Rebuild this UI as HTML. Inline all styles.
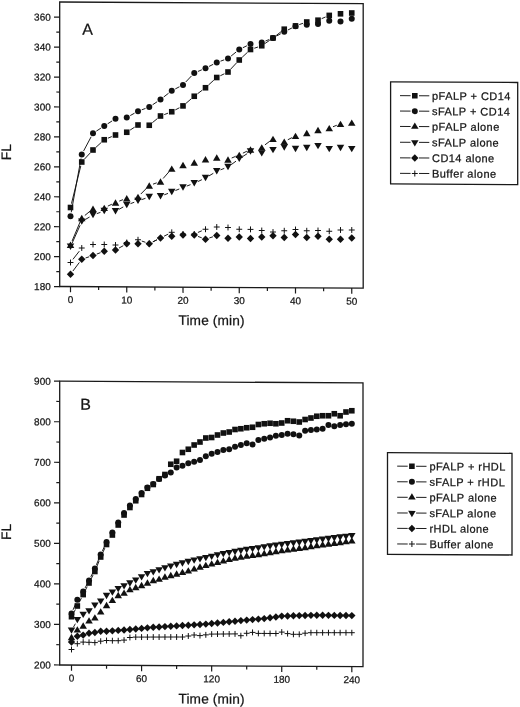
<!DOCTYPE html>
<html><head><meta charset="utf-8"><title>Figure</title>
<style>
html,body{margin:0;padding:0;background:#fff;}
svg{display:block;will-change:transform;filter:blur(0.35px);}
text{font-family:"Liberation Sans",sans-serif;fill:#161616;stroke:#161616;stroke-width:0.25px;}
.tk{font-size:10px;}
.ax{font-size:13.7px;letter-spacing:0.15px;}
.pn{font-size:16px;}
.lg{font-size:11px;letter-spacing:0.45px;}
</style></head><body>
<svg width="520" height="707" viewBox="0 0 520 707" fill="#111">
<rect x="0" y="0" width="520" height="707" fill="#fff"/>
<g transform="matrix(1 0.0055 0 1 0 -0.33)">
<rect x="59.7" y="2" width="303.5" height="284.5" fill="none" stroke="#1a1a1a" stroke-width="1.3"/>
<text x="50.8" y="290.15" text-anchor="end" class="tk">180</text>
<text x="50.8" y="260.22" text-anchor="end" class="tk">200</text>
<text x="50.8" y="230.28" text-anchor="end" class="tk">220</text>
<text x="50.8" y="200.35" text-anchor="end" class="tk">240</text>
<text x="50.8" y="170.41" text-anchor="end" class="tk">260</text>
<text x="50.8" y="140.48" text-anchor="end" class="tk">280</text>
<text x="50.8" y="110.55" text-anchor="end" class="tk">300</text>
<text x="50.8" y="80.61" text-anchor="end" class="tk">320</text>
<text x="50.8" y="50.68" text-anchor="end" class="tk">340</text>
<text x="50.8" y="20.74" text-anchor="end" class="tk">360</text>
<text x="70.5" y="303.05" text-anchor="middle" class="tk">0</text>
<text x="126.75" y="303.05" text-anchor="middle" class="tk">10</text>
<text x="183" y="303.05" text-anchor="middle" class="tk">20</text>
<text x="239.25" y="303.05" text-anchor="middle" class="tk">30</text>
<text x="295.5" y="303.05" text-anchor="middle" class="tk">40</text>
<text x="351.75" y="303.05" text-anchor="middle" class="tk">50</text>
<path d="M59.7 286.6H54M59.7 256.67H54M59.7 226.73H54M59.7 196.8H54M59.7 166.86H54M59.7 136.93H54M59.7 107H54M59.7 77.06H54M59.7 47.13H54M59.7 17.19H54M59.7 271.63H56.3M59.7 241.7H56.3M59.7 211.77H56.3M59.7 181.83H56.3M59.7 151.9H56.3M59.7 121.96H56.3M59.7 92.03H56.3M59.7 62.1H56.3M59.7 32.16H56.3M70.5 286.5V292.2M126.75 286.5V292.2M183 286.5V292.2M239.25 286.5V292.2M295.5 286.5V292.2M351.75 286.5V292.2M98.62 286.5V289.9M154.88 286.5V289.9M211.12 286.5V289.9M267.38 286.5V289.9M323.62 286.5V289.9" stroke="#1a1a1a" stroke-width="1.2" fill="none"/>
<text x="211.6" y="324.2" text-anchor="middle" class="ax">Time (min)</text>
<text transform="translate(10.6 152.4) rotate(-90)" text-anchor="middle" class="ax">FL</text>
<text x="82.3" y="34.6" class="pn">A</text>
</g>
<path d="M72.95 259.34L79.3 251.16M141.78 241.05L145.47 242.3M152.83 241.82L156.92 239.78M164.07 236.19L168.18 234.11M197.93 232.44L201.82 230.81" stroke="#111" stroke-width="0.95" fill="none"/>
<path d="M67.55 262.5H73.45M70.5 259.55V265.45" stroke="#111" stroke-width="1" fill="none"/>
<path d="M78.8 248H84.7M81.75 245.05V250.95" stroke="#111" stroke-width="1" fill="none"/>
<path d="M90.05 244.5H95.95M93 241.55V247.45" stroke="#111" stroke-width="1" fill="none"/>
<path d="M101.3 244.5H107.2M104.25 241.55V247.45" stroke="#111" stroke-width="1" fill="none"/>
<path d="M112.55 245H118.45M115.5 242.05V247.95" stroke="#111" stroke-width="1" fill="none"/>
<path d="M123.8 242.5H129.7M126.75 239.55V245.45" stroke="#111" stroke-width="1" fill="none"/>
<path d="M135.05 239.75H140.95M138 236.8V242.7" stroke="#111" stroke-width="1" fill="none"/>
<path d="M146.3 243.6H152.2M149.25 240.65V246.55" stroke="#111" stroke-width="1" fill="none"/>
<path d="M157.55 238H163.45M160.5 235.05V240.95" stroke="#111" stroke-width="1" fill="none"/>
<path d="M168.8 232.3H174.7M171.75 229.35V235.25" stroke="#111" stroke-width="1" fill="none"/>
<path d="M180.05 234H185.95M183 231.05V236.95" stroke="#111" stroke-width="1" fill="none"/>
<path d="M191.3 234H197.2M194.25 231.05V236.95" stroke="#111" stroke-width="1" fill="none"/>
<path d="M202.55 229.25H208.45M205.5 226.3V232.2" stroke="#111" stroke-width="1" fill="none"/>
<path d="M213.8 227H219.7M216.75 224.05V229.95" stroke="#111" stroke-width="1" fill="none"/>
<path d="M225.05 227.5H230.95M228 224.55V230.45" stroke="#111" stroke-width="1" fill="none"/>
<path d="M236.3 229.25H242.2M239.25 226.3V232.2" stroke="#111" stroke-width="1" fill="none"/>
<path d="M247.55 229.4H253.45M250.5 226.45V232.35" stroke="#111" stroke-width="1" fill="none"/>
<path d="M258.8 230.5H264.7M261.75 227.55V233.45" stroke="#111" stroke-width="1" fill="none"/>
<path d="M270.05 232H275.95M273 229.05V234.95" stroke="#111" stroke-width="1" fill="none"/>
<path d="M281.3 230.75H287.2M284.25 227.8V233.7" stroke="#111" stroke-width="1" fill="none"/>
<path d="M292.55 229.5H298.45M295.5 226.55V232.45" stroke="#111" stroke-width="1" fill="none"/>
<path d="M303.8 230.75H309.7M306.75 227.8V233.7" stroke="#111" stroke-width="1" fill="none"/>
<path d="M315.05 230.5H320.95M318 227.55V233.45" stroke="#111" stroke-width="1" fill="none"/>
<path d="M326.3 231.25H332.2M329.25 228.3V234.2" stroke="#111" stroke-width="1" fill="none"/>
<path d="M337.55 230H343.45M340.5 227.05V232.95" stroke="#111" stroke-width="1" fill="none"/>
<path d="M348.8 230H354.7M351.75 227.05V232.95" stroke="#111" stroke-width="1" fill="none"/>
<path d="M72.9 271.05L79.35 262.45M85.54 257.99L89.21 256.76M96.74 254.09L100.51 252.66M119 248.06L123.25 245.69M152.81 241.93L156.94 239.82M197.99 236.41L201.76 237.84M209.29 237.99L212.96 236.76" stroke="#111" stroke-width="0.95" fill="none"/>
<path d="M66.8 274.25L70.5 270.55L74.2 274.25L70.5 277.95Z"/>
<path d="M78.05 259.25L81.75 255.55L85.45 259.25L81.75 262.95Z"/>
<path d="M89.3 255.5L93 251.8L96.7 255.5L93 259.2Z"/>
<path d="M100.55 251.25L104.25 247.55L107.95 251.25L104.25 254.95Z"/>
<path d="M111.8 250L115.5 246.3L119.2 250L115.5 253.7Z"/>
<path d="M123.05 243.75L126.75 240.05L130.45 243.75L126.75 247.45Z"/>
<path d="M134.3 243.75L138 240.05L141.7 243.75L138 247.45Z"/>
<path d="M145.55 243.75L149.25 240.05L152.95 243.75L149.25 247.45Z"/>
<path d="M156.8 238L160.5 234.3L164.2 238L160.5 241.7Z"/>
<path d="M168.05 236.25L171.75 232.55L175.45 236.25L171.75 239.95Z"/>
<path d="M179.3 235L183 231.3L186.7 235L183 238.7Z"/>
<path d="M190.55 235L194.25 231.3L197.95 235L194.25 238.7Z"/>
<path d="M201.8 239.25L205.5 235.55L209.2 239.25L205.5 242.95Z"/>
<path d="M213.05 235.5L216.75 231.8L220.45 235.5L216.75 239.2Z"/>
<path d="M224.3 238.25L228 234.55L231.7 238.25L228 241.95Z"/>
<path d="M235.55 237L239.25 233.3L242.95 237L239.25 240.7Z"/>
<path d="M246.8 238.5L250.5 234.8L254.2 238.5L250.5 242.2Z"/>
<path d="M258.05 237L261.75 233.3L265.45 237L261.75 240.7Z"/>
<path d="M269.3 235.75L273 232.05L276.7 235.75L273 239.45Z"/>
<path d="M280.55 237.5L284.25 233.8L287.95 237.5L284.25 241.2Z"/>
<path d="M291.8 234.5L295.5 230.8L299.2 234.5L295.5 238.2Z"/>
<path d="M303.05 237.5L306.75 233.8L310.45 237.5L306.75 241.2Z"/>
<path d="M314.3 236.25L318 232.55L321.7 236.25L318 239.95Z"/>
<path d="M325.55 239.25L329.25 235.55L332.95 239.25L329.25 242.95Z"/>
<path d="M336.8 239.25L340.5 235.55L344.2 239.25L340.5 242.95Z"/>
<path d="M348.05 238L351.75 234.3L355.45 238L351.75 241.7Z"/>
<path d="M72.13 243.1L80.12 225.25M85.2 219.58L89.55 217.02M96.77 213.66L100.48 212.34M119 209.31L123.25 206.94M130.51 203.63L134.24 202.27M141.78 199.59L145.47 198.31M164.24 194.84L168.01 193.41M175.46 190.51L179.29 188.99M186.74 186.09L190.51 184.66M197.87 181.56L201.88 179.69M208.93 175.94L213.32 173.31M220.49 169.84L224.26 168.41M231.23 164.64L236.02 161.16M242.61 156.62L247.14 153.68" stroke="#111" stroke-width="0.95" fill="none"/>
<path d="M66.75 243.6L74.25 243.6L70.5 249.9Z"/>
<path d="M78 218.45L85.5 218.45L81.75 224.75Z"/>
<path d="M89.25 211.85L96.75 211.85L93 218.15Z"/>
<path d="M100.5 207.85L108 207.85L104.25 214.15Z"/>
<path d="M111.75 208.1L119.25 208.1L115.5 214.4Z"/>
<path d="M123 201.85L130.5 201.85L126.75 208.15Z"/>
<path d="M134.25 197.75L141.75 197.75L138 204.05Z"/>
<path d="M145.5 193.85L153 193.85L149.25 200.15Z"/>
<path d="M156.75 193.1L164.25 193.1L160.5 199.4Z"/>
<path d="M168 188.85L175.5 188.85L171.75 195.15Z"/>
<path d="M179.25 184.35L186.75 184.35L183 190.65Z"/>
<path d="M190.5 180.1L198 180.1L194.25 186.4Z"/>
<path d="M201.75 174.85L209.25 174.85L205.5 181.15Z"/>
<path d="M213 168.1L220.5 168.1L216.75 174.4Z"/>
<path d="M224.25 163.85L231.75 163.85L228 170.15Z"/>
<path d="M235.5 155.65L243 155.65L239.25 161.95Z"/>
<path d="M246.75 148.35L254.25 148.35L250.5 154.65Z"/>
<path d="M258 150.15L265.5 150.15L261.75 156.45Z"/>
<path d="M269.25 147.05L276.75 147.05L273 153.35Z"/>
<path d="M280.5 144.35L288 144.35L284.25 150.65Z"/>
<path d="M291.75 145.85L299.25 145.85L295.5 152.15Z"/>
<path d="M303 144.85L310.5 144.85L306.75 151.15Z"/>
<path d="M314.25 143.05L321.75 143.05L318 149.35Z"/>
<path d="M325.5 146.05L333 146.05L329.25 152.35Z"/>
<path d="M336.75 144.85L344.25 144.85L340.5 151.15Z"/>
<path d="M348 146.05L355.5 146.05L351.75 152.35Z"/>
<path d="M72.05 241.06L80.2 221.69M84.84 215.46L89.91 211.29M107.87 206.1L111.88 204.2M119.24 201.09L123.01 199.66M140.81 194.05L146.44 188.35M153.02 184.16L156.73 182.84M163.13 178.49L169.12 171.61M231.7 157.99L235.55 156.41M242.86 153.17L246.89 151.23M264.94 144.89L269.81 141.21M287.81 139.77L291.94 137.63M332.98 126.74L336.77 125.26" stroke="#111" stroke-width="0.95" fill="none"/>
<path d="M66.75 247.9L74.25 247.9L70.5 241.6Z"/>
<path d="M78 221.15L85.5 221.15L81.75 214.85Z"/>
<path d="M89.25 211.9L96.75 211.9L93 205.6Z"/>
<path d="M100.5 210.95L108 210.95L104.25 204.65Z"/>
<path d="M111.75 205.65L119.25 205.65L115.5 199.35Z"/>
<path d="M123 201.4L130.5 201.4L126.75 195.1Z"/>
<path d="M134.25 200.05L141.75 200.05L138 193.75Z"/>
<path d="M145.5 188.65L153 188.65L149.25 182.35Z"/>
<path d="M156.75 184.65L164.25 184.65L160.5 178.35Z"/>
<path d="M168 171.75L175.5 171.75L171.75 165.45Z"/>
<path d="M179.25 168.15L186.75 168.15L183 161.85Z"/>
<path d="M190.5 165.65L198 165.65L194.25 159.35Z"/>
<path d="M201.75 162.4L209.25 162.4L205.5 156.1Z"/>
<path d="M213 160.65L220.5 160.65L216.75 154.35Z"/>
<path d="M224.25 162.65L231.75 162.65L228 156.35Z"/>
<path d="M235.5 158.05L243 158.05L239.25 151.75Z"/>
<path d="M246.75 152.65L254.25 152.65L250.5 146.35Z"/>
<path d="M258 150.45L265.5 150.45L261.75 144.15Z"/>
<path d="M269.25 141.95L276.75 141.95L273 135.65Z"/>
<path d="M280.5 144.75L288 144.75L284.25 138.45Z"/>
<path d="M291.75 138.95L299.25 138.95L295.5 132.65Z"/>
<path d="M303 136.15L310.5 136.15L306.75 129.85Z"/>
<path d="M314.25 133.15L321.75 133.15L318 126.85Z"/>
<path d="M325.5 131.35L333 131.35L329.25 125.05Z"/>
<path d="M336.75 126.95L344.25 126.95L340.5 120.65Z"/>
<path d="M348 125.75L355.5 125.75L351.75 119.45Z"/>
<path d="M71.22 212.31L81.03 158.44M83.62 150.96L91.13 136.79M96.36 131.08L100.89 128.17M107.61 123.83L112.14 120.92M130.25 115.56L134.5 113.19M141.74 109.84L145.51 108.41M152.58 104.78L157.17 101.72M163.66 97.04L168.59 93.21M175.3 88.9L179.45 86.75M185.75 81.99L191.5 75.91M197.93 71.44L201.82 69.81M209.06 66.43L213.19 64.32M220.52 61.16L224.23 59.84M231.12 56L236.13 52M242.84 47.74L246.91 45.76M265.46 41.01L269.29 39.49M276.5 36.07L280.75 33.73M287.83 30.02L291.92 27.98" stroke="#111" stroke-width="0.95" fill="none"/>
<circle cx="70.5" cy="216.25" r="3.0"/>
<circle cx="81.75" cy="154.5" r="3.0"/>
<circle cx="93" cy="133.25" r="3.0"/>
<circle cx="104.25" cy="126" r="3.0"/>
<circle cx="115.5" cy="118.75" r="3.0"/>
<circle cx="126.75" cy="117.5" r="3.0"/>
<circle cx="138" cy="111.25" r="3.0"/>
<circle cx="149.25" cy="107" r="3.0"/>
<circle cx="160.5" cy="99.5" r="3.0"/>
<circle cx="171.75" cy="90.75" r="3.0"/>
<circle cx="183" cy="84.9" r="3.0"/>
<circle cx="194.25" cy="73" r="3.0"/>
<circle cx="205.5" cy="68.25" r="3.0"/>
<circle cx="216.75" cy="62.5" r="3.0"/>
<circle cx="228" cy="58.5" r="3.0"/>
<circle cx="239.25" cy="49.5" r="3.0"/>
<circle cx="250.5" cy="44" r="3.0"/>
<circle cx="261.75" cy="42.5" r="3.0"/>
<circle cx="273" cy="38" r="3.0"/>
<circle cx="284.25" cy="31.8" r="3.0"/>
<circle cx="295.5" cy="26.2" r="3.0"/>
<circle cx="306.75" cy="24.8" r="3.0"/>
<circle cx="318" cy="24" r="3.0"/>
<circle cx="329.25" cy="20.8" r="3.0"/>
<circle cx="340.5" cy="21.5" r="3.0"/>
<circle cx="351.75" cy="18.7" r="3.0"/>
<path d="M71.46 203.62L80.79 165.88M84.49 159.08L90.26 152.92M95.96 147.31L101.29 142.44M107.93 138.19L111.82 136.56M130.11 130.08L134.64 127.17M152.34 122.71L157.41 118.54M164.24 114.59L168.01 113.16M175.3 109.9L179.45 107.75M186.04 103.3L191.21 98.85M197.44 93.84L202.31 90.16M208.46 85.06L213.79 80.19M220.34 75.74L224.41 73.76M230.74 69.08L236.51 62.92M242.17 57.27L247.58 52.23M254.29 48.24L257.96 47.01M265.04 43.48L269.71 40.27M276.15 35.54L281.1 31.66M299.28 24.59L302.97 23.31M321.68 18.63L325.57 16.97" stroke="#111" stroke-width="0.95" fill="none"/>
<rect x="67.7" y="204.7" width="5.6" height="5.6"/>
<rect x="78.95" y="159.2" width="5.6" height="5.6"/>
<rect x="90.2" y="147.2" width="5.6" height="5.6"/>
<rect x="101.45" y="136.95" width="5.6" height="5.6"/>
<rect x="112.7" y="132.2" width="5.6" height="5.6"/>
<rect x="123.95" y="129.45" width="5.6" height="5.6"/>
<rect x="135.2" y="122.2" width="5.6" height="5.6"/>
<rect x="146.45" y="122.45" width="5.6" height="5.6"/>
<rect x="157.7" y="113.2" width="5.6" height="5.6"/>
<rect x="168.95" y="108.95" width="5.6" height="5.6"/>
<rect x="180.2" y="103.1" width="5.6" height="5.6"/>
<rect x="191.45" y="93.45" width="5.6" height="5.6"/>
<rect x="202.7" y="84.95" width="5.6" height="5.6"/>
<rect x="213.95" y="74.7" width="5.6" height="5.6"/>
<rect x="225.2" y="69.2" width="5.6" height="5.6"/>
<rect x="236.45" y="57.2" width="5.6" height="5.6"/>
<rect x="247.7" y="46.7" width="5.6" height="5.6"/>
<rect x="258.95" y="42.95" width="5.6" height="5.6"/>
<rect x="270.2" y="35.2" width="5.6" height="5.6"/>
<rect x="281.45" y="26.4" width="5.6" height="5.6"/>
<rect x="292.7" y="23.1" width="5.6" height="5.6"/>
<rect x="303.95" y="19.2" width="5.6" height="5.6"/>
<rect x="315.2" y="17.4" width="5.6" height="5.6"/>
<rect x="326.45" y="12.6" width="5.6" height="5.6"/>
<rect x="337.7" y="11" width="5.6" height="5.6"/>
<rect x="348.95" y="10.2" width="5.6" height="5.6"/>
<g transform="matrix(1 0.0055 0 1 0 -2.15)">
<rect x="390.6" y="81.8" width="127.1" height="102.1" fill="none" stroke="#1a1a1a" stroke-width="1.3"/>
<path d="M400 95.6H410.6M419 95.6H429.3" stroke="#111" stroke-width="0.95" fill="none"/>
<rect x="412" y="92.8" width="5.6" height="5.6"/>
<text x="432" y="99.5" class="lg">pFALP + CD14</text>
<path d="M400 111H410.6M419 111H429.3" stroke="#111" stroke-width="0.95" fill="none"/>
<circle cx="414.8" cy="111" r="3.0"/>
<text x="432" y="114.9" class="lg">sFALP + CD14</text>
<path d="M400 126.4H410.6M419 126.4H429.3" stroke="#111" stroke-width="0.95" fill="none"/>
<path d="M411.05 128.55L418.55 128.55L414.8 122.25Z"/>
<text x="432" y="130.3" class="lg">pFALP alone</text>
<path d="M400 142.2H410.6M419 142.2H429.3" stroke="#111" stroke-width="0.95" fill="none"/>
<path d="M411.05 140.05L418.55 140.05L414.8 146.35Z"/>
<text x="432" y="146.1" class="lg">sFALP alone</text>
<path d="M400 157.8H410.6M419 157.8H429.3" stroke="#111" stroke-width="0.95" fill="none"/>
<path d="M411.1 157.8L414.8 154.1L418.5 157.8L414.8 161.5Z"/>
<text x="432" y="161.7" class="lg">CD14 alone</text>
<path d="M400 173.3H410.6M419 173.3H429.3" stroke="#111" stroke-width="0.95" fill="none"/>
<path d="M411.85 173.3H417.75M414.8 170.35V176.25" stroke="#111" stroke-width="1" fill="none"/>
<text x="432" y="177.2" class="lg">Buffer alone</text>
</g>
<g transform="matrix(1 0.0055 0 1 0 -0.33)">
<rect x="59.7" y="381.2" width="303.3" height="283.8" fill="none" stroke="#1a1a1a" stroke-width="1.3"/>
<text x="50.8" y="668.55" text-anchor="end" class="tk">200</text>
<text x="50.8" y="628.01" text-anchor="end" class="tk">300</text>
<text x="50.8" y="587.47" text-anchor="end" class="tk">400</text>
<text x="50.8" y="546.93" text-anchor="end" class="tk">500</text>
<text x="50.8" y="506.39" text-anchor="end" class="tk">600</text>
<text x="50.8" y="465.85" text-anchor="end" class="tk">700</text>
<text x="50.8" y="425.31" text-anchor="end" class="tk">800</text>
<text x="50.8" y="384.77" text-anchor="end" class="tk">900</text>
<text x="71.5" y="681.55" text-anchor="middle" class="tk">0</text>
<text x="141.58" y="681.55" text-anchor="middle" class="tk">60</text>
<text x="211.66" y="681.55" text-anchor="middle" class="tk">120</text>
<text x="281.74" y="681.55" text-anchor="middle" class="tk">180</text>
<text x="351.82" y="681.55" text-anchor="middle" class="tk">240</text>
<path d="M59.7 665H54M59.7 624.46H54M59.7 583.92H54M59.7 543.38H54M59.7 502.84H54M59.7 462.3H54M59.7 421.76H54M59.7 381.22H54M59.7 644.73H56.3M59.7 604.19H56.3M59.7 563.65H56.3M59.7 523.11H56.3M59.7 482.57H56.3M59.7 442.03H56.3M59.7 401.49H56.3M71.5 665V670.7M141.58 665V670.7M211.66 665V670.7M281.74 665V670.7M351.82 665V670.7M106.54 665V668.4M176.62 665V668.4M246.7 665V668.4M316.78 665V668.4" stroke="#1a1a1a" stroke-width="1.2" fill="none"/>
<text x="211.6" y="702.7" text-anchor="middle" class="ax">Time (min)</text>
<text transform="translate(11.1 532.1) rotate(-90)" text-anchor="middle" class="ax">FL</text>
<text x="80.2" y="409.7" class="pn">B</text>
</g>
<path d="M68.55 649.5H74.45M71.5 646.55V652.45" stroke="#111" stroke-width="1" fill="none"/>
<path d="M74.39 643.7H80.29M77.34 640.75V646.65" stroke="#111" stroke-width="1" fill="none"/>
<path d="M80.23 642.1H86.13M83.18 639.15V645.05" stroke="#111" stroke-width="1" fill="none"/>
<path d="M86.07 642.3H91.97M89.02 639.35V645.25" stroke="#111" stroke-width="1" fill="none"/>
<path d="M91.91 642.6H97.81M94.86 639.65V645.55" stroke="#111" stroke-width="1" fill="none"/>
<path d="M97.75 641.2H103.65M100.7 638.25V644.15" stroke="#111" stroke-width="1" fill="none"/>
<path d="M103.59 640.5H109.49M106.54 637.55V643.45" stroke="#111" stroke-width="1" fill="none"/>
<path d="M109.43 640.7H115.33M112.38 637.75V643.65" stroke="#111" stroke-width="1" fill="none"/>
<path d="M115.27 640.7H121.17M118.22 637.75V643.65" stroke="#111" stroke-width="1" fill="none"/>
<path d="M121.11 640.1H127.01M124.06 637.15V643.05" stroke="#111" stroke-width="1" fill="none"/>
<path d="M126.95 637.5H132.85M129.9 634.55V640.45" stroke="#111" stroke-width="1" fill="none"/>
<path d="M132.79 637.1H138.69M135.74 634.15V640.05" stroke="#111" stroke-width="1" fill="none"/>
<path d="M138.63 637.09H144.53M141.58 634.14V640.04" stroke="#111" stroke-width="1" fill="none"/>
<path d="M144.47 637.08H150.37M147.42 634.12V640.03" stroke="#111" stroke-width="1" fill="none"/>
<path d="M150.31 637.06H156.21M153.26 634.11V640.01" stroke="#111" stroke-width="1" fill="none"/>
<path d="M156.15 637.05H162.05M159.1 634.1V640" stroke="#111" stroke-width="1" fill="none"/>
<path d="M161.99 637.04H167.89M164.94 634.09V639.99" stroke="#111" stroke-width="1" fill="none"/>
<path d="M167.83 637.02H173.73M170.78 634.07V639.98" stroke="#111" stroke-width="1" fill="none"/>
<path d="M173.67 637.01H179.57M176.62 634.06V639.96" stroke="#111" stroke-width="1" fill="none"/>
<path d="M179.51 637H185.41M182.46 634.05V639.95" stroke="#111" stroke-width="1" fill="none"/>
<path d="M185.35 636H191.25M188.3 633.05V638.95" stroke="#111" stroke-width="1" fill="none"/>
<path d="M191.19 635H197.09M194.14 632.05V637.95" stroke="#111" stroke-width="1" fill="none"/>
<path d="M197.03 635.6H202.93M199.98 632.65V638.55" stroke="#111" stroke-width="1" fill="none"/>
<path d="M202.87 634.85H208.77M205.82 631.9V637.8" stroke="#111" stroke-width="1" fill="none"/>
<path d="M208.71 634.1H214.61M211.66 631.15V637.05" stroke="#111" stroke-width="1" fill="none"/>
<path d="M214.55 634.05H220.45M217.5 631.1V637" stroke="#111" stroke-width="1" fill="none"/>
<path d="M220.39 634H226.29M223.34 631.05V636.95" stroke="#111" stroke-width="1" fill="none"/>
<path d="M226.23 633.95H232.13M229.18 631V636.9" stroke="#111" stroke-width="1" fill="none"/>
<path d="M232.07 633.9H237.97M235.02 630.95V636.85" stroke="#111" stroke-width="1" fill="none"/>
<path d="M237.91 635.7H243.81M240.86 632.75V638.65" stroke="#111" stroke-width="1" fill="none"/>
<path d="M243.75 633.3H249.65M246.7 630.35V636.25" stroke="#111" stroke-width="1" fill="none"/>
<path d="M249.59 632.4H255.49M252.54 629.45V635.35" stroke="#111" stroke-width="1" fill="none"/>
<path d="M255.43 633.4H261.33M258.38 630.45V636.35" stroke="#111" stroke-width="1" fill="none"/>
<path d="M261.27 633.43H267.17M264.22 630.48V636.38" stroke="#111" stroke-width="1" fill="none"/>
<path d="M267.11 633.47H273.01M270.06 630.52V636.42" stroke="#111" stroke-width="1" fill="none"/>
<path d="M272.95 633.5H278.85M275.9 630.55V636.45" stroke="#111" stroke-width="1" fill="none"/>
<path d="M278.79 632.1H284.69M281.74 629.15V635.05" stroke="#111" stroke-width="1" fill="none"/>
<path d="M284.63 633.6H290.53M287.58 630.65V636.55" stroke="#111" stroke-width="1" fill="none"/>
<path d="M290.47 634.3H296.37M293.42 631.35V637.25" stroke="#111" stroke-width="1" fill="none"/>
<path d="M296.31 634.3H302.21M299.26 631.35V637.25" stroke="#111" stroke-width="1" fill="none"/>
<path d="M302.15 633.2H308.05M305.1 630.25V636.15" stroke="#111" stroke-width="1" fill="none"/>
<path d="M307.99 632.7H313.89M310.94 629.75V635.65" stroke="#111" stroke-width="1" fill="none"/>
<path d="M313.83 632.7H319.73M316.78 629.75V635.65" stroke="#111" stroke-width="1" fill="none"/>
<path d="M319.67 632.7H325.57M322.62 629.75V635.65" stroke="#111" stroke-width="1" fill="none"/>
<path d="M325.51 632.7H331.41M328.46 629.75V635.65" stroke="#111" stroke-width="1" fill="none"/>
<path d="M331.35 632.7H337.25M334.3 629.75V635.65" stroke="#111" stroke-width="1" fill="none"/>
<path d="M337.19 632.7H343.09M340.14 629.75V635.65" stroke="#111" stroke-width="1" fill="none"/>
<path d="M343.03 632.7H348.93M345.98 629.75V635.65" stroke="#111" stroke-width="1" fill="none"/>
<path d="M348.87 632.7H354.77M351.82 629.75V635.65" stroke="#111" stroke-width="1" fill="none"/>
<path d="M67.8 642L71.5 638.3L75.2 642L71.5 645.7Z"/>
<path d="M73.64 636.3L77.34 632.6L81.04 636.3L77.34 640Z"/>
<path d="M79.48 635.1L83.18 631.4L86.88 635.1L83.18 638.8Z"/>
<path d="M85.32 633.2L89.02 629.5L92.72 633.2L89.02 636.9Z"/>
<path d="M91.16 632.5L94.86 628.8L98.56 632.5L94.86 636.2Z"/>
<path d="M97 631.2L100.7 627.5L104.4 631.2L100.7 634.9Z"/>
<path d="M102.84 631.3L106.54 627.6L110.24 631.3L106.54 635Z"/>
<path d="M108.68 630.85L112.38 627.15L116.08 630.85L112.38 634.55Z"/>
<path d="M114.52 630.4L118.22 626.7L121.92 630.4L118.22 634.1Z"/>
<path d="M120.36 629.95L124.06 626.25L127.76 629.95L124.06 633.65Z"/>
<path d="M126.2 629.5L129.9 625.8L133.6 629.5L129.9 633.2Z"/>
<path d="M132.04 628.95L135.74 625.25L139.44 628.95L135.74 632.65Z"/>
<path d="M137.88 628.4L141.58 624.7L145.28 628.4L141.58 632.1Z"/>
<path d="M143.72 627.85L147.42 624.15L151.12 627.85L147.42 631.55Z"/>
<path d="M149.56 627.3L153.26 623.6L156.96 627.3L153.26 631Z"/>
<path d="M155.4 626.95L159.1 623.25L162.8 626.95L159.1 630.65Z"/>
<path d="M161.24 626.6L164.94 622.9L168.64 626.6L164.94 630.3Z"/>
<path d="M167.08 626.25L170.78 622.55L174.48 626.25L170.78 629.95Z"/>
<path d="M172.92 625.9L176.62 622.2L180.32 625.9L176.62 629.6Z"/>
<path d="M178.76 625.55L182.46 621.85L186.16 625.55L182.46 629.25Z"/>
<path d="M184.6 625.2L188.3 621.5L192 625.2L188.3 628.9Z"/>
<path d="M190.44 624.83L194.14 621.13L197.84 624.83L194.14 628.53Z"/>
<path d="M196.28 624.47L199.98 620.77L203.68 624.47L199.98 628.17Z"/>
<path d="M202.12 624.1L205.82 620.4L209.52 624.1L205.82 627.8Z"/>
<path d="M207.96 623.55L211.66 619.85L215.36 623.55L211.66 627.25Z"/>
<path d="M213.8 623L217.5 619.3L221.2 623L217.5 626.7Z"/>
<path d="M219.64 622.4L223.34 618.7L227.04 622.4L223.34 626.1Z"/>
<path d="M225.48 621.8L229.18 618.1L232.88 621.8L229.18 625.5Z"/>
<path d="M231.32 621.2L235.02 617.5L238.72 621.2L235.02 624.9Z"/>
<path d="M237.16 620.6L240.86 616.9L244.56 620.6L240.86 624.3Z"/>
<path d="M243 620.1L246.7 616.4L250.4 620.1L246.7 623.8Z"/>
<path d="M248.84 619.6L252.54 615.9L256.24 619.6L252.54 623.3Z"/>
<path d="M254.68 619.1L258.38 615.4L262.08 619.1L258.38 622.8Z"/>
<path d="M260.52 618.6L264.22 614.9L267.92 618.6L264.22 622.3Z"/>
<path d="M266.36 617.77L270.06 614.07L273.76 617.77L270.06 621.47Z"/>
<path d="M272.2 616.93L275.9 613.23L279.6 616.93L275.9 620.63Z"/>
<path d="M278.04 616.1L281.74 612.4L285.44 616.1L281.74 619.8Z"/>
<path d="M283.88 615.93L287.58 612.23L291.28 615.93L287.58 619.63Z"/>
<path d="M289.72 615.77L293.42 612.07L297.12 615.77L293.42 619.47Z"/>
<path d="M295.56 615.6L299.26 611.9L302.96 615.6L299.26 619.3Z"/>
<path d="M301.4 615.47L305.1 611.77L308.8 615.47L305.1 619.17Z"/>
<path d="M307.24 615.33L310.94 611.63L314.64 615.33L310.94 619.03Z"/>
<path d="M313.08 615.2L316.78 611.5L320.48 615.2L316.78 618.9Z"/>
<path d="M318.92 615.27L322.62 611.57L326.32 615.27L322.62 618.97Z"/>
<path d="M324.76 615.33L328.46 611.63L332.16 615.33L328.46 619.03Z"/>
<path d="M330.6 615.4L334.3 611.7L338 615.4L334.3 619.1Z"/>
<path d="M336.44 615.47L340.14 611.77L343.84 615.47L340.14 619.17Z"/>
<path d="M342.28 615.53L345.98 611.83L349.68 615.53L345.98 619.23Z"/>
<path d="M348.12 615.6L351.82 611.9L355.52 615.6L351.82 619.3Z"/>
<path d="M67.75 640.15L75.25 640.15L71.5 633.85Z"/>
<path d="M73.59 632.45L81.09 632.45L77.34 626.15Z"/>
<path d="M79.43 628.65L86.93 628.65L83.18 622.35Z"/>
<path d="M85.27 623.55L92.77 623.55L89.02 617.25Z"/>
<path d="M91.11 620.45L98.61 620.45L94.86 614.15Z"/>
<path d="M96.95 614.45L104.45 614.45L100.7 608.15Z"/>
<path d="M102.79 608.15L110.29 608.15L106.54 601.85Z"/>
<path d="M108.63 602.95L116.13 602.95L112.38 596.65Z"/>
<path d="M114.47 598.15L121.97 598.15L118.22 591.85Z"/>
<path d="M120.31 595.85L127.81 595.85L124.06 589.55Z"/>
<path d="M126.15 592.35L133.65 592.35L129.9 586.05Z"/>
<path d="M131.99 590.15L139.49 590.15L135.74 583.85Z"/>
<path d="M137.83 588.15L145.33 588.15L141.58 581.85Z"/>
<path d="M143.67 585.65L151.17 585.65L147.42 579.35Z"/>
<path d="M149.51 583.15L157.01 583.15L153.26 576.85Z"/>
<path d="M155.35 581.75L162.85 581.75L159.1 575.45Z"/>
<path d="M161.19 579.65L168.69 579.65L164.94 573.35Z"/>
<path d="M167.03 578.15L174.53 578.15L170.78 571.85Z"/>
<path d="M172.87 576.65L180.37 576.65L176.62 570.35Z"/>
<path d="M178.71 575.05L186.21 575.05L182.46 568.75Z"/>
<path d="M184.55 573.45L192.05 573.45L188.3 567.15Z"/>
<path d="M190.39 571.55L197.89 571.55L194.14 565.25Z"/>
<path d="M196.23 569.65L203.73 569.65L199.98 563.35Z"/>
<path d="M202.07 568.05L209.57 568.05L205.82 561.75Z"/>
<path d="M207.91 566.45L215.41 566.45L211.66 560.15Z"/>
<path d="M213.75 564.95L221.25 564.95L217.5 558.65Z"/>
<path d="M219.59 563.45L227.09 563.45L223.34 557.15Z"/>
<path d="M225.43 562.05L232.93 562.05L229.18 555.75Z"/>
<path d="M231.27 560.65L238.77 560.65L235.02 554.35Z"/>
<path d="M237.11 559.65L244.61 559.65L240.86 553.35Z"/>
<path d="M242.95 558.65L250.45 558.65L246.7 552.35Z"/>
<path d="M248.79 557.9L256.29 557.9L252.54 551.6Z"/>
<path d="M254.63 557.15L262.13 557.15L258.38 550.85Z"/>
<path d="M260.47 556.15L267.97 556.15L264.22 549.85Z"/>
<path d="M266.31 555.15L273.81 555.15L270.06 548.85Z"/>
<path d="M272.15 554.15L279.65 554.15L275.9 547.85Z"/>
<path d="M277.99 553.15L285.49 553.15L281.74 546.85Z"/>
<path d="M283.83 552.4L291.33 552.4L287.58 546.1Z"/>
<path d="M289.67 551.65L297.17 551.65L293.42 545.35Z"/>
<path d="M295.51 550.9L303.01 550.9L299.26 544.6Z"/>
<path d="M301.35 550.15L308.85 550.15L305.1 543.85Z"/>
<path d="M307.19 549.15L314.69 549.15L310.94 542.85Z"/>
<path d="M313.03 548.15L320.53 548.15L316.78 541.85Z"/>
<path d="M318.87 547.4L326.37 547.4L322.62 541.1Z"/>
<path d="M324.71 546.65L332.21 546.65L328.46 540.35Z"/>
<path d="M330.55 545.9L338.05 545.9L334.3 539.6Z"/>
<path d="M336.39 545.15L343.89 545.15L340.14 538.85Z"/>
<path d="M342.23 544.3L349.73 544.3L345.98 538Z"/>
<path d="M348.07 543.45L355.57 543.45L351.82 537.15Z"/>
<path d="M73.46 627.11L75.38 623.69" stroke="#111" stroke-width="0.95" fill="none"/>
<path d="M67.75 627.45L75.25 627.45L71.5 633.75Z"/>
<path d="M73.59 617.05L81.09 617.05L77.34 623.35Z"/>
<path d="M79.43 611.75L86.93 611.75L83.18 618.05Z"/>
<path d="M85.27 608.15L92.77 608.15L89.02 614.45Z"/>
<path d="M91.11 602.45L98.61 602.45L94.86 608.75Z"/>
<path d="M96.95 598.45L104.45 598.45L100.7 604.75Z"/>
<path d="M102.79 592.85L110.29 592.85L106.54 599.15Z"/>
<path d="M108.63 589.55L116.13 589.55L112.38 595.85Z"/>
<path d="M114.47 586.05L121.97 586.05L118.22 592.35Z"/>
<path d="M120.31 583.15L127.81 583.15L124.06 589.45Z"/>
<path d="M126.15 580.35L133.65 580.35L129.9 586.65Z"/>
<path d="M131.99 577.45L139.49 577.45L135.74 583.75Z"/>
<path d="M137.83 574.15L145.33 574.15L141.58 580.45Z"/>
<path d="M143.67 571.05L151.17 571.05L147.42 577.35Z"/>
<path d="M149.51 569.15L157.01 569.15L153.26 575.45Z"/>
<path d="M155.35 567.15L162.85 567.15L159.1 573.45Z"/>
<path d="M161.19 565.15L168.69 565.15L164.94 571.45Z"/>
<path d="M167.03 563.5L174.53 563.5L170.78 569.8Z"/>
<path d="M172.87 561.85L180.37 561.85L176.62 568.15Z"/>
<path d="M178.71 560.35L186.21 560.35L182.46 566.65Z"/>
<path d="M184.55 558.85L192.05 558.85L188.3 565.15Z"/>
<path d="M190.39 557.5L197.89 557.5L194.14 563.8Z"/>
<path d="M196.23 556.15L203.73 556.15L199.98 562.45Z"/>
<path d="M202.07 554.9L209.57 554.9L205.82 561.2Z"/>
<path d="M207.91 553.65L215.41 553.65L211.66 559.95Z"/>
<path d="M213.75 552.35L221.25 552.35L217.5 558.65Z"/>
<path d="M219.59 551.05L227.09 551.05L223.34 557.35Z"/>
<path d="M225.43 549.95L232.93 549.95L229.18 556.25Z"/>
<path d="M231.27 548.85L238.77 548.85L235.02 555.15Z"/>
<path d="M237.11 547.85L244.61 547.85L240.86 554.15Z"/>
<path d="M242.95 546.85L250.45 546.85L246.7 553.15Z"/>
<path d="M248.79 546.05L256.29 546.05L252.54 552.35Z"/>
<path d="M254.63 545.25L262.13 545.25L258.38 551.55Z"/>
<path d="M260.47 544.3L267.97 544.3L264.22 550.6Z"/>
<path d="M266.31 543.35L273.81 543.35L270.06 549.65Z"/>
<path d="M272.15 542.6L279.65 542.6L275.9 548.9Z"/>
<path d="M277.99 541.85L285.49 541.85L281.74 548.15Z"/>
<path d="M283.83 541.1L291.33 541.1L287.58 547.4Z"/>
<path d="M289.67 540.35L297.17 540.35L293.42 546.65Z"/>
<path d="M295.51 539.6L303.01 539.6L299.26 545.9Z"/>
<path d="M301.35 538.85L308.85 538.85L305.1 545.15Z"/>
<path d="M307.19 538.1L314.69 538.1L310.94 544.4Z"/>
<path d="M313.03 537.35L320.53 537.35L316.78 543.65Z"/>
<path d="M318.87 536.6L326.37 536.6L322.62 542.9Z"/>
<path d="M324.71 535.85L332.21 535.85L328.46 542.15Z"/>
<path d="M330.55 535.1L338.05 535.1L334.3 541.4Z"/>
<path d="M336.39 534.35L343.89 534.35L340.14 540.65Z"/>
<path d="M342.23 533.7L349.73 533.7L345.98 540Z"/>
<path d="M348.07 533.05L355.57 533.05L351.82 539.35Z"/>
<path d="M73.07 609.82L75.77 603.48M85.06 587.97L87.14 584.03M90.77 576.9L93.11 572.1M96.4 564.81L99.16 558.19M102.39 550.88L104.85 545.62" stroke="#111" stroke-width="0.95" fill="none"/>
<circle cx="71.5" cy="613.5" r="3.0"/>
<circle cx="77.34" cy="599.8" r="3.0"/>
<circle cx="83.18" cy="591.5" r="3.0"/>
<circle cx="89.02" cy="580.5" r="3.0"/>
<circle cx="94.86" cy="568.5" r="3.0"/>
<circle cx="100.7" cy="554.5" r="3.0"/>
<circle cx="106.54" cy="542" r="3.0"/>
<circle cx="112.38" cy="532.5" r="3.0"/>
<circle cx="118.22" cy="522.5" r="3.0"/>
<circle cx="124.06" cy="513" r="3.0"/>
<circle cx="129.9" cy="505.5" r="3.0"/>
<circle cx="135.74" cy="499" r="3.0"/>
<circle cx="141.58" cy="493" r="3.0"/>
<circle cx="147.42" cy="487.5" r="3.0"/>
<circle cx="153.26" cy="484" r="3.0"/>
<circle cx="159.1" cy="479" r="3.0"/>
<circle cx="164.94" cy="475.5" r="3.0"/>
<circle cx="170.78" cy="472.5" r="3.0"/>
<circle cx="176.62" cy="467.5" r="3.0"/>
<circle cx="182.46" cy="465.75" r="3.0"/>
<circle cx="188.3" cy="463.25" r="3.0"/>
<circle cx="194.14" cy="461.75" r="3.0"/>
<circle cx="199.98" cy="460" r="3.0"/>
<circle cx="205.82" cy="456.25" r="3.0"/>
<circle cx="211.66" cy="453.75" r="3.0"/>
<circle cx="217.5" cy="452" r="3.0"/>
<circle cx="223.34" cy="450" r="3.0"/>
<circle cx="229.18" cy="449.25" r="3.0"/>
<circle cx="235.02" cy="446.75" r="3.0"/>
<circle cx="240.86" cy="445" r="3.0"/>
<circle cx="246.7" cy="443.25" r="3.0"/>
<circle cx="252.54" cy="444.5" r="3.0"/>
<circle cx="258.38" cy="440" r="3.0"/>
<circle cx="264.22" cy="438.75" r="3.0"/>
<circle cx="270.06" cy="437.5" r="3.0"/>
<circle cx="275.9" cy="435.75" r="3.0"/>
<circle cx="281.74" cy="435" r="3.0"/>
<circle cx="287.58" cy="433.75" r="3.0"/>
<circle cx="293.42" cy="434.25" r="3.0"/>
<circle cx="299.26" cy="435.5" r="3.0"/>
<circle cx="305.1" cy="430.75" r="3.0"/>
<circle cx="310.94" cy="430" r="3.0"/>
<circle cx="316.78" cy="429.5" r="3.0"/>
<circle cx="322.62" cy="428.75" r="3.0"/>
<circle cx="328.46" cy="425" r="3.0"/>
<circle cx="334.3" cy="426.25" r="3.0"/>
<circle cx="340.14" cy="425" r="3.0"/>
<circle cx="345.98" cy="424.25" r="3.0"/>
<circle cx="351.82" cy="423.75" r="3.0"/>
<path d="M73.42 613.19L75.42 609.51M79.16 602.44L81.36 598.16M84.98 591.03L87.22 586.57M90.83 579.43L93.05 575.07M96.35 567.79L99.21 560.71M102.39 553.38L104.85 548.12" stroke="#111" stroke-width="0.95" fill="none"/>
<rect x="68.7" y="613.9" width="5.6" height="5.6"/>
<rect x="74.54" y="603.2" width="5.6" height="5.6"/>
<rect x="80.38" y="591.8" width="5.6" height="5.6"/>
<rect x="86.22" y="580.2" width="5.6" height="5.6"/>
<rect x="92.06" y="568.7" width="5.6" height="5.6"/>
<rect x="97.9" y="554.2" width="5.6" height="5.6"/>
<rect x="103.74" y="541.7" width="5.6" height="5.6"/>
<rect x="109.58" y="532.2" width="5.6" height="5.6"/>
<rect x="115.42" y="522.2" width="5.6" height="5.6"/>
<rect x="121.26" y="512.2" width="5.6" height="5.6"/>
<rect x="127.1" y="504.7" width="5.6" height="5.6"/>
<rect x="132.94" y="497.95" width="5.6" height="5.6"/>
<rect x="138.78" y="491.7" width="5.6" height="5.6"/>
<rect x="144.62" y="485.45" width="5.6" height="5.6"/>
<rect x="150.46" y="481.7" width="5.6" height="5.6"/>
<rect x="156.3" y="475.95" width="5.6" height="5.6"/>
<rect x="162.14" y="471.7" width="5.6" height="5.6"/>
<rect x="167.98" y="461.45" width="5.6" height="5.6"/>
<rect x="173.82" y="458.45" width="5.6" height="5.6"/>
<rect x="179.66" y="449.7" width="5.6" height="5.6"/>
<rect x="185.5" y="446.45" width="5.6" height="5.6"/>
<rect x="191.34" y="442.2" width="5.6" height="5.6"/>
<rect x="197.18" y="439.2" width="5.6" height="5.6"/>
<rect x="203.02" y="435.2" width="5.6" height="5.6"/>
<rect x="208.86" y="434.7" width="5.6" height="5.6"/>
<rect x="214.7" y="432.2" width="5.6" height="5.6"/>
<rect x="220.54" y="430.2" width="5.6" height="5.6"/>
<rect x="226.38" y="429.2" width="5.6" height="5.6"/>
<rect x="232.22" y="426.7" width="5.6" height="5.6"/>
<rect x="238.06" y="425.95" width="5.6" height="5.6"/>
<rect x="243.9" y="424.95" width="5.6" height="5.6"/>
<rect x="249.74" y="424.45" width="5.6" height="5.6"/>
<rect x="255.58" y="421.7" width="5.6" height="5.6"/>
<rect x="261.42" y="420.95" width="5.6" height="5.6"/>
<rect x="267.26" y="420.45" width="5.6" height="5.6"/>
<rect x="273.1" y="420.95" width="5.6" height="5.6"/>
<rect x="278.94" y="420.2" width="5.6" height="5.6"/>
<rect x="284.78" y="417.95" width="5.6" height="5.6"/>
<rect x="290.62" y="418.45" width="5.6" height="5.6"/>
<rect x="296.46" y="419.2" width="5.6" height="5.6"/>
<rect x="302.3" y="416.7" width="5.6" height="5.6"/>
<rect x="308.14" y="415.2" width="5.6" height="5.6"/>
<rect x="313.98" y="413.45" width="5.6" height="5.6"/>
<rect x="319.82" y="412.95" width="5.6" height="5.6"/>
<rect x="325.66" y="412.95" width="5.6" height="5.6"/>
<rect x="331.5" y="410.95" width="5.6" height="5.6"/>
<rect x="337.34" y="412.95" width="5.6" height="5.6"/>
<rect x="343.18" y="409.2" width="5.6" height="5.6"/>
<rect x="349.02" y="407.95" width="5.6" height="5.6"/>
<g transform="matrix(1 0.0055 0 1 0 -2.13)">
<rect x="387.5" y="452.6" width="124.5" height="101.7" fill="none" stroke="#1a1a1a" stroke-width="1.3"/>
<path d="M397.2 466.1H407.7M416.1 466.1H426.5" stroke="#111" stroke-width="0.95" fill="none"/>
<rect x="409.1" y="463.3" width="5.6" height="5.6"/>
<text x="429.4" y="470" class="lg">pFALP + rHDL</text>
<path d="M397.2 481.7H407.7M416.1 481.7H426.5" stroke="#111" stroke-width="0.95" fill="none"/>
<circle cx="411.9" cy="481.7" r="3.0"/>
<text x="429.4" y="485.6" class="lg">sFALP + rHDL</text>
<path d="M397.2 497.2H407.7M416.1 497.2H426.5" stroke="#111" stroke-width="0.95" fill="none"/>
<path d="M408.15 499.35L415.65 499.35L411.9 493.05Z"/>
<text x="429.4" y="501.1" class="lg">pFALP alone</text>
<path d="M397.2 512.9H407.7M416.1 512.9H426.5" stroke="#111" stroke-width="0.95" fill="none"/>
<path d="M408.15 510.75L415.65 510.75L411.9 517.05Z"/>
<text x="429.4" y="516.8" class="lg">sFALP alone</text>
<path d="M397.2 528.3H407.7M416.1 528.3H426.5" stroke="#111" stroke-width="0.95" fill="none"/>
<path d="M408.2 528.3L411.9 524.6L415.6 528.3L411.9 532Z"/>
<text x="429.4" y="532.2" class="lg">rHDL alone</text>
<path d="M397.2 543.9H407.7M416.1 543.9H426.5" stroke="#111" stroke-width="0.95" fill="none"/>
<path d="M408.95 543.9H414.85M411.9 540.95V546.85" stroke="#111" stroke-width="1" fill="none"/>
<text x="429.4" y="547.8" class="lg">Buffer alone</text>
</g>
</svg>
</body></html>
